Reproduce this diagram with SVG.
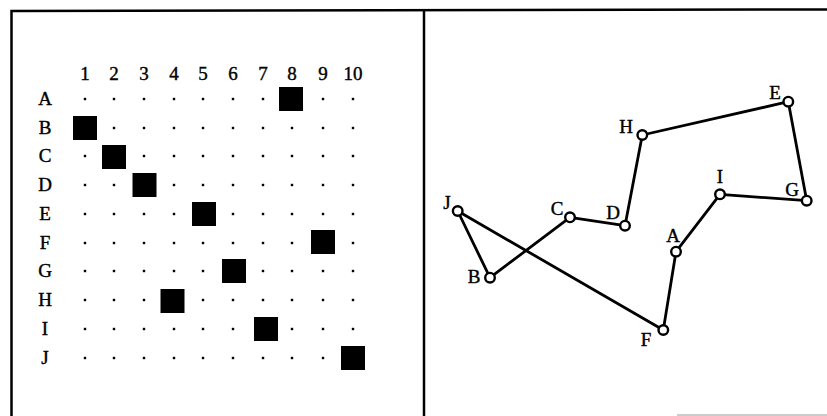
<svg xmlns="http://www.w3.org/2000/svg" width="827" height="416" viewBox="0 0 827 416">
<style>
.t{font-family:"Liberation Serif","Times New Roman",serif;font-size:19px;fill:#000;stroke:#000;stroke-width:0.4;text-anchor:middle}
.sq{fill:#000}
.dot{fill:#000}
.edge{stroke:#000;stroke-width:2.8;fill:none;stroke-linejoin:round}
.node{fill:#fff;stroke:#000;stroke-width:2.4}
.frame{stroke:#000;stroke-width:2.5;fill:none}
</style>
<defs>
<rect id="d" x="-1.2" y="-1.2" width="2.4" height="2.4" class="dot"/>
<rect id="s" x="-12" y="-12" width="24" height="24" class="sq"/>
</defs>
<rect width="827" height="416" fill="#fff"/>
<g id="frame">
<path class="frame" d="M11.5,416 V11 L827,9.5"/>
<path class="frame" d="M424,10 V416"/>
<path d="M677,415 H827" stroke="#bbb" stroke-width="1.5"/>
</g>
<g id="matrix">
<g id="col-labels">
<text class="t" x="85" y="80">1</text>
<text class="t" x="114" y="80">2</text>
<text class="t" x="144" y="80">3</text>
<text class="t" x="174" y="80">4</text>
<text class="t" x="203" y="80">5</text>
<text class="t" x="233" y="80">6</text>
<text class="t" x="263" y="80">7</text>
<text class="t" x="292" y="80">8</text>
<text class="t" x="323" y="80">9</text>
<text class="t" x="353" y="80">10</text>
</g>
<g id="row-labels">
<text class="t" x="45" y="105">A</text>
<text class="t" x="45" y="134">B</text>
<text class="t" x="45" y="162">C</text>
<text class="t" x="45" y="191">D</text>
<text class="t" x="45" y="220">E</text>
<text class="t" x="45" y="249">F</text>
<text class="t" x="45" y="277">G</text>
<text class="t" x="45" y="306">H</text>
<text class="t" x="45" y="335">I</text>
<text class="t" x="45" y="364">J</text>
</g>
<g id="dots">
<use href="#d" x="85" y="99"/><use href="#d" x="114" y="99"/><use href="#d" x="144" y="99"/><use href="#d" x="174" y="99"/><use href="#d" x="203" y="99"/><use href="#d" x="233" y="99"/><use href="#d" x="263" y="99"/><use href="#d" x="323" y="99"/><use href="#d" x="353" y="99"/>
<use href="#d" x="114" y="128"/><use href="#d" x="144" y="128"/><use href="#d" x="174" y="128"/><use href="#d" x="203" y="128"/><use href="#d" x="233" y="128"/><use href="#d" x="263" y="128"/><use href="#d" x="292" y="128"/><use href="#d" x="323" y="128"/><use href="#d" x="353" y="128"/>
<use href="#d" x="85" y="156"/><use href="#d" x="144" y="156"/><use href="#d" x="174" y="156"/><use href="#d" x="203" y="156"/><use href="#d" x="233" y="156"/><use href="#d" x="263" y="156"/><use href="#d" x="292" y="156"/><use href="#d" x="323" y="156"/><use href="#d" x="353" y="156"/>
<use href="#d" x="85" y="185"/><use href="#d" x="114" y="185"/><use href="#d" x="174" y="185"/><use href="#d" x="203" y="185"/><use href="#d" x="233" y="185"/><use href="#d" x="263" y="185"/><use href="#d" x="292" y="185"/><use href="#d" x="323" y="185"/><use href="#d" x="353" y="185"/>
<use href="#d" x="85" y="214"/><use href="#d" x="114" y="214"/><use href="#d" x="144" y="214"/><use href="#d" x="174" y="214"/><use href="#d" x="233" y="214"/><use href="#d" x="263" y="214"/><use href="#d" x="292" y="214"/><use href="#d" x="323" y="214"/><use href="#d" x="353" y="214"/>
<use href="#d" x="85" y="243"/><use href="#d" x="114" y="243"/><use href="#d" x="144" y="243"/><use href="#d" x="174" y="243"/><use href="#d" x="203" y="243"/><use href="#d" x="233" y="243"/><use href="#d" x="263" y="243"/><use href="#d" x="292" y="243"/><use href="#d" x="353" y="243"/>
<use href="#d" x="85" y="271"/><use href="#d" x="114" y="271"/><use href="#d" x="144" y="271"/><use href="#d" x="174" y="271"/><use href="#d" x="203" y="271"/><use href="#d" x="263" y="271"/><use href="#d" x="292" y="271"/><use href="#d" x="323" y="271"/><use href="#d" x="353" y="271"/>
<use href="#d" x="85" y="300"/><use href="#d" x="114" y="300"/><use href="#d" x="144" y="300"/><use href="#d" x="203" y="300"/><use href="#d" x="233" y="300"/><use href="#d" x="263" y="300"/><use href="#d" x="292" y="300"/><use href="#d" x="323" y="300"/><use href="#d" x="353" y="300"/>
<use href="#d" x="85" y="329"/><use href="#d" x="114" y="329"/><use href="#d" x="144" y="329"/><use href="#d" x="174" y="329"/><use href="#d" x="203" y="329"/><use href="#d" x="233" y="329"/><use href="#d" x="292" y="329"/><use href="#d" x="323" y="329"/><use href="#d" x="353" y="329"/>
<use href="#d" x="85" y="358"/><use href="#d" x="114" y="358"/><use href="#d" x="144" y="358"/><use href="#d" x="174" y="358"/><use href="#d" x="203" y="358"/><use href="#d" x="233" y="358"/><use href="#d" x="263" y="358"/><use href="#d" x="292" y="358"/><use href="#d" x="323" y="358"/>
</g>
<g id="squares">
<use href="#s" x="291" y="99"/>
<use href="#s" x="85" y="128"/>
<use href="#s" x="114" y="157"/>
<use href="#s" x="144.5" y="185"/>
<use href="#s" x="204" y="214"/>
<use href="#s" x="323" y="242"/>
<use href="#s" x="234" y="271"/>
<use href="#s" x="172.5" y="301"/>
<use href="#s" x="266" y="329"/>
<use href="#s" x="353" y="358"/>
</g>
</g>
<g id="connectors">
<path class="edge" d="M676,251.7 L720,194.3 L806.7,200.7 L788.3,101.7 L642.3,135 L625,225.7 L570,217.3 L490,277.7 L457.7,211 L663.3,330 Z"/>
</g>
<g id="node-A"><circle class="node" cx="676" cy="251.7" r="4.8"/><text class="t" x="673" y="242">A</text></g>
<g id="node-B"><circle class="node" cx="490" cy="277.7" r="4.8"/><text class="t" x="474" y="283">B</text></g>
<g id="node-C"><circle class="node" cx="570" cy="217.3" r="4.8"/><text class="t" x="557" y="215">C</text></g>
<g id="node-D"><circle class="node" cx="625" cy="225.7" r="4.8"/><text class="t" x="613" y="219">D</text></g>
<g id="node-E"><circle class="node" cx="788.3" cy="101.7" r="4.8"/><text class="t" x="775" y="99">E</text></g>
<g id="node-F"><circle class="node" cx="663.3" cy="330" r="4.8"/><text class="t" x="646" y="346">F</text></g>
<g id="node-G"><circle class="node" cx="806.7" cy="200.7" r="4.8"/><text class="t" x="792" y="196">G</text></g>
<g id="node-H"><circle class="node" cx="642.3" cy="135" r="4.8"/><text class="t" x="626" y="133">H</text></g>
<g id="node-I"><circle class="node" cx="720" cy="194.3" r="4.8"/><text class="t" x="720" y="183">I</text></g>
<g id="node-J"><circle class="node" cx="457.7" cy="211" r="4.8"/><text class="t" x="447" y="209">J</text></g>
</svg>
